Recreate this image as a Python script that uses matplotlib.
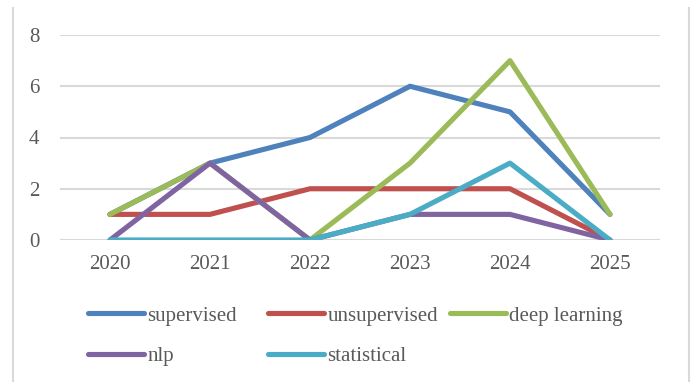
import matplotlib.pyplot as plt
from matplotlib.lines import Line2D

plt.rcParams['font.family'] = ['Liberation Serif', 'DejaVu Serif']

# data
years = ['2020', '2021', '2022', '2023', '2024', '2025']
supervised = [1, 3, 4, 6, 5, 1]
unsupervised = [1, 1, 2, 2, 2, 0]
deep_learning = [1, 3, 0, 3, 7, 1]
nlp = [0, 3, 0, 1, 1, 0]
statistical = [0, 0, 0, 1, 3, 0]

series = [
    ('supervised', supervised, '#4F81BD'),
    ('unsupervised', unsupervised, '#C0504D'),
    ('deep learning', deep_learning, '#9BBB59'),
    ('nlp', nlp, '#8064A2'),
    ('statistical', statistical, '#4BACC6'),
]

W, H = 693, 382
fig = plt.figure(figsize=(W / 100, H / 100), dpi=100)
ax = fig.add_axes([60 / W, 1 - 240 / H, 600 / W, 205 / H])

x = range(len(years))
handles = {}
for name, vals, col in series:
    ln, = ax.plot(x, vals, color=col, lw=3.7, solid_joinstyle='round',
                  solid_capstyle='round', label=name)
    handles[name] = ln

ax.set_xlim(-0.5, 5.5)
ax.set_ylim(0, 8)
ax.set_yticks([0, 2, 4, 6, 8])
ax.set_xticks(list(x))
ax.set_xticklabels(years)
ax.yaxis.grid(True, color='#D9D9D9', lw=1.5)
ax.set_axisbelow(True)
for s in ax.spines.values():
    s.set_visible(False)
ax.tick_params(length=0, labelsize=15, colors='#595959')
ax.tick_params(axis='y', pad=15)
ax.tick_params(axis='x', pad=11)

# legend, three columns placed like the original
cols = [(['supervised', 'nlp'], 88), (['unsupervised', 'statistical'], 268),
        (['deep learning'], 450)]
for names, px in cols:
    leg = fig.legend([handles[n] for n in names], names,
                     loc='upper left', bbox_to_anchor=(px / W, 1 - 306 / H),
                     frameon=False, fontsize=15, handlelength=2.7,
                     handletextpad=0.15, labelspacing=1.0, borderpad=0,
                     borderaxespad=0, labelcolor='#595959')
    for lh in leg.legend_handles:
        lh.set_linewidth(3.7)

# chart border (left and right edges visible)
for bx in (13, 689):
    fig.add_artist(Line2D([bx / W, bx / W], [0, 1 - 8 / H],
                          transform=fig.transFigure, color='#D9D9D9', lw=1.5))

fig.savefig('out.png', dpi=100)
